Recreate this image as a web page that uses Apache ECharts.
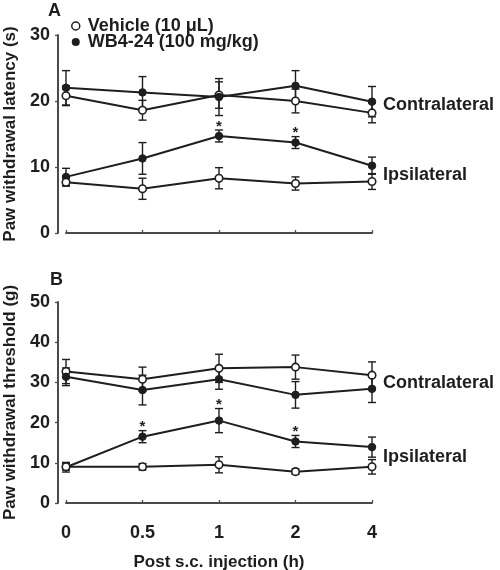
<!DOCTYPE html>
<html><head><meta charset="utf-8">
<script src="https://cdn.jsdelivr.net/npm/echarts@6/dist/echarts.min.js"></script>
<style>html,body{margin:0;padding:0;background:#fff}#c{width:500px;height:570px}</style>
</head><body><div id="c"></div>
<script>
const categories = ['0', '0.5', '1', '2', '4'];
const ticksA = [0, 10, 20, 30];
const ticksB = [0, 10, 20, 30, 40, 50];

// Panel A: paw withdrawal latency (s)
const vehContraA = [20.8, 18.6, 20.9, 20.0, 18.2];
const vehContraErrA = [1.5, 1.5, 2.0, 1.8, 1.5];
const wbContraA = [22.0, 21.3, 20.6, 22.3, 19.9];
const wbContraErrA = [2.6, 2.4, 2.8, 2.3, 2.3];
const wbIpsiA = [8.5, 11.3, 14.7, 13.7, 10.2];
const wbIpsiErrA = [1.3, 2.4, 0.9, 0.9, 1.3];
const vehIpsiA = [7.7, 6.7, 8.3, 7.5, 7.8];
const vehIpsiErrA = [0.6, 1.6, 1.6, 1.0, 1.2];
const starsA = [2, 3];

// Panel B: paw withdrawal threshold (g)
const vehContraB = [32.7, 30.8, 33.5, 33.8, 31.8];
const vehContraErrB = [3.0, 3.0, 3.5, 3.0, 3.3];
const wbContraB = [31.4, 28.1, 30.8, 26.9, 28.4];
const wbContraErrB = [2.2, 3.7, 2.5, 3.3, 3.4];
const wbIpsiB = [8.9, 16.5, 20.5, 15.3, 13.9];
const wbIpsiErrB = [1.2, 1.5, 3.0, 1.5, 2.5];
const vehIpsiB = [9.0, 9.0, 9.5, 7.8, 9.0];
const vehIpsiErrB = [0.8, 0.8, 2.0, 0.7, 1.8];
const starsB = [1, 2, 3];

const VEH = 'Vehicle (10 μL)';
const WB = 'WB4-24 (100 mg/kg)';
const INK = '#1e1e1e';
const AX = '#4a4a4a';
const FONT = '"Liberation Sans", Arial, sans-serif';

function errData(mean, err) { return mean.map((m, i) => [i, m - err[i], m + err[i]]); }
function errRender(params, api) {
  const x = api.value(0);
  const lo = api.coord([x, api.value(1)]);
  const hi = api.coord([x, api.value(2)]);
  const w = 4;
  const st = { stroke: INK, lineWidth: 1.4 };
  return { type: 'group', children: [
    { type: 'line', shape: { x1: lo[0], y1: lo[1], x2: hi[0], y2: hi[1] }, style: st },
    { type: 'line', shape: { x1: lo[0] - w, y1: lo[1], x2: lo[0] + w, y2: lo[1] }, style: st },
    { type: 'line', shape: { x1: hi[0] - w, y1: hi[1], x2: hi[0] + w, y2: hi[1] }, style: st }
  ]};
}
function starRender(params, api) {
  const p = api.coord([api.value(0), api.value(1)]);
  return { type: 'text', x: p[0], y: p[1] + 4, style: { text: '*', fill: INK, font: 'bold 15px ' + FONT, align: 'center', verticalAlign: 'bottom' } };
}
function lineSeries(name, data, open, idx) {
  return {
    type: 'line', name: name, data: data, xAxisIndex: idx, yAxisIndex: idx,
    symbol: 'circle', symbolSize: 7.5, z: 3,
    lineStyle: { color: INK, width: 2 },
    itemStyle: open ? { color: '#fff', borderColor: INK, borderWidth: 1.6 } : { color: INK, borderColor: INK, borderWidth: 1 },
    emphasis: { disabled: true }
  };
}
function errSeries(name, mean, err, idx) {
  return { type: 'custom', name: name, xAxisIndex: idx, yAxisIndex: idx, renderItem: errRender,
    data: errData(mean, err), encode: { x: 0, y: [1, 2] }, z: 2, silent: true };
}
function starSeries(stars, mean, err, idx) {
  return { type: 'custom', xAxisIndex: idx, yAxisIndex: idx, renderItem: starRender,
    data: stars.map(i => [i, mean[i] + err[i]]), encode: { x: 0, y: 1 }, z: 4, silent: true };
}
function yAxis(idx, ticks, name) {
  return {
    type: 'value', gridIndex: idx, min: ticks[0], max: ticks[ticks.length - 1], interval: 10,
    offset: 8, name: name, nameLocation: 'middle', nameGap: 38,
    nameTextStyle: { fontFamily: FONT, fontWeight: 'bold', fontSize: 17, color: INK },
    axisLine: { show: true, lineStyle: { color: AX, width: 2 } },
    axisTick: { show: true, length: 3, lineStyle: { color: AX, width: 1.3 } },
    axisLabel: { fontFamily: FONT, fontWeight: 'bold', fontSize: 18, color: INK, margin: 8 },
    splitLine: { show: false }
  };
}
function xAxis(idx, showLabels, offset) {
  return {
    type: 'category', gridIndex: idx, data: categories, boundaryGap: false, offset: offset,
    name: showLabels ? 'Post s.c. injection (h)' : '', nameLocation: 'middle', nameGap: 41,
    nameTextStyle: { fontFamily: FONT, fontWeight: 'bold', fontSize: 17, color: INK },
    axisLine: { show: true, lineStyle: { color: AX, width: 2 } },
    axisTick: { show: true, inside: true, length: 3, alignWithLabel: true, lineStyle: { color: AX, width: 1.3 } },
    axisLabel: { show: showLabels, fontFamily: FONT, fontWeight: 'bold', fontSize: 18, color: INK, margin: 11 },
    splitLine: { show: false }
  };
}
function sideLabel(text, y) {
  return { type: 'text', x: 383, y: y, style: { text: text, fill: INK, font: 'bold 18px ' + FONT, verticalAlign: 'middle' } };
}

const chart = echarts.init(document.getElementById('c'));
chart.setOption({
  animation: false,
  backgroundColor: '#fff',
  grid: [
    { left: 66, width: 306, top: 35, height: 198, containLabel: false, outerBoundsMode: 'none' },
    { left: 66, width: 306, top: 302, height: 201, containLabel: false, outerBoundsMode: 'none' }
  ],
  xAxis: [xAxis(0, false, 14), xAxis(1, true, 10)],
  yAxis: [yAxis(0, ticksA, 'Paw withdrawal latency (s)'), yAxis(1, ticksB, 'Paw withdrawal threshold (g)')],
  legend: {
    orient: 'vertical', left: 66, top: 12, itemWidth: 14, itemHeight: 8, itemGap: -2,
    textStyle: { fontFamily: FONT, fontWeight: 'bold', fontSize: 18, color: INK },
    selectedMode: false,
    data: [
      { name: VEH, icon: 'circle', itemStyle: { color: '#fff', borderColor: INK, borderWidth: 1.5 } },
      { name: WB, icon: 'circle', itemStyle: { color: INK } }
    ]
  },
  graphic: [
    { type: 'text', x: 48, y: 11, style: { text: 'A', fill: INK, font: 'bold 18px ' + FONT, verticalAlign: 'middle' } },
    { type: 'text', x: 50, y: 280, style: { text: 'B', fill: INK, font: 'bold 18px ' + FONT, verticalAlign: 'middle' } },
    sideLabel('Contralateral', 105),
    sideLabel('Ipsilateral', 175),
    sideLabel('Contralateral', 383),
    sideLabel('Ipsilateral', 457)
  ],
  series: [
    errSeries(VEH, vehContraA, vehContraErrA, 0),
    errSeries(WB, wbContraA, wbContraErrA, 0),
    errSeries(WB, wbIpsiA, wbIpsiErrA, 0),
    errSeries(VEH, vehIpsiA, vehIpsiErrA, 0),
    lineSeries(VEH, vehContraA, true, 0),
    lineSeries(WB, wbContraA, false, 0),
    lineSeries(WB, wbIpsiA, false, 0),
    lineSeries(VEH, vehIpsiA, true, 0),
    starSeries(starsA, wbIpsiA, wbIpsiErrA, 0),
    errSeries(VEH, vehContraB, vehContraErrB, 1),
    errSeries(WB, wbContraB, wbContraErrB, 1),
    errSeries(WB, wbIpsiB, wbIpsiErrB, 1),
    errSeries(VEH, vehIpsiB, vehIpsiErrB, 1),
    lineSeries(VEH, vehContraB, true, 1),
    lineSeries(WB, wbContraB, false, 1),
    lineSeries(WB, wbIpsiB, false, 1),
    lineSeries(VEH, vehIpsiB, true, 1),
    starSeries(starsB, wbIpsiB, wbIpsiErrB, 1)
  ]
});
</script></body></html>
